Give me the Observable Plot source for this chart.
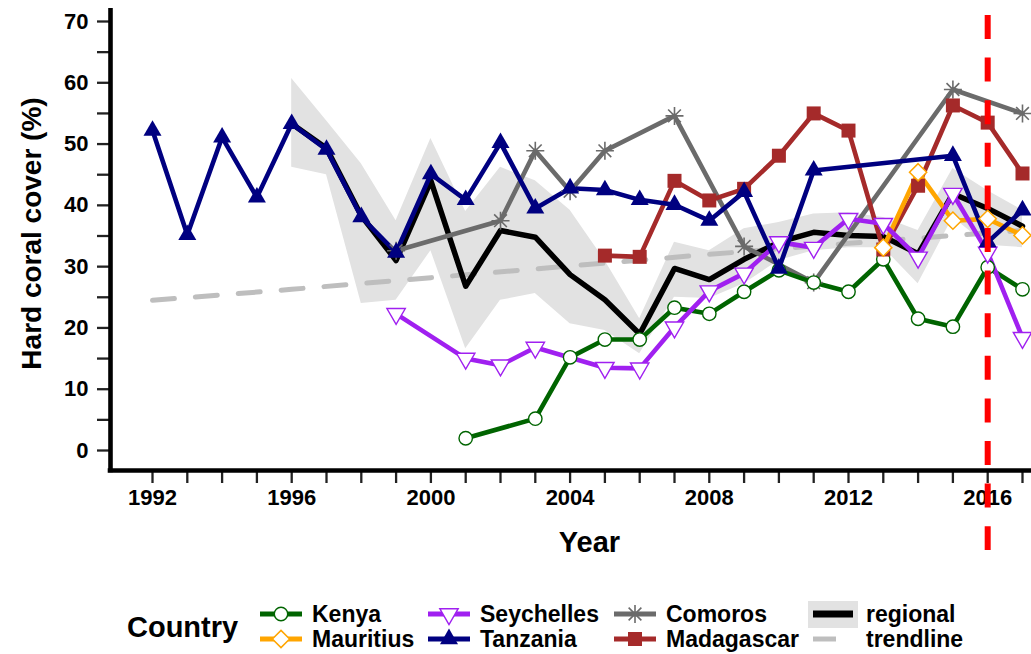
<!DOCTYPE html>
<html>
<head>
<meta charset="utf-8">
<script src="https://cdn.jsdelivr.net/npm/d3@7"></script>
<script src="https://cdn.jsdelivr.net/npm/@observablehq/plot@0.6"></script>
<style>
  html, body { margin: 0; padding: 0; background: #ffffff; }
  #chart { width: 1031px; height: 654px; overflow: hidden; font-family: "Liberation Sans", Arial, sans-serif; }
  #chart svg { display: block; }
</style>
</head>
<body>
<div id="chart"></div>
<script>
// ---- Hard coral cover (%) by country and year ----
const kenyaYears = [2001, 2003, 2004, 2005, 2006, 2007, 2008, 2009, 2010, 2011, 2012, 2013, 2014, 2015, 2016, 2017];
const kenyaCover = [2.0, 5.2, 15.2, 18.1, 18.1, 23.3, 22.3, 25.9, 29.4, 27.4, 25.9, 31.2, 21.5, 20.2, 29.9, 26.3];

const mauritiusYears = [2013, 2014, 2015, 2016, 2017];
const mauritiusCover = [33.1, 45.4, 37.5, 37.8, 35.1];

const seychellesYears = [1999, 2001, 2002, 2003, 2005, 2006, 2007, 2008, 2009, 2010, 2011, 2012, 2013, 2014, 2015, 2016, 2017];
const seychellesCover = [22.3, 15.0, 13.9, 16.8, 13.5, 13.4, 20.1, 26.0, 28.9, 34.0, 33.1, 37.8, 37.0, 31.5, 41.9, 32.3, 18.4];

const tanzaniaYears = [1992, 1993, 1994, 1995, 1996, 1997, 1998, 1999, 2000, 2001, 2002, 2003, 2004, 2005, 2006, 2007, 2008, 2009, 2010, 2011, 2015, 2016, 2017];
const tanzaniaCover = [52.2, 35.2, 51.1, 41.3, 53.3, 49.1, 38.1, 32.3, 45.1, 40.9, 50.2, 39.5, 42.8, 42.5, 40.9, 40.1, 37.5, 42.2, 29.7, 45.7, 48.1, 34.0, 39.2];

const comorosYears = [1999, 2002, 2003, 2004, 2005, 2007, 2009, 2011, 2015, 2017];
const comorosCover = [32.6, 37.5, 48.9, 42.3, 48.9, 54.6, 33.3, 27.4, 58.9, 55.0];

const madagascarYears = [2005, 2006, 2007, 2008, 2009, 2010, 2011, 2012, 2013, 2014, 2015, 2016, 2017];
const madagascarCover = [31.8, 31.6, 44.0, 40.8, 42.7, 48.1, 55.0, 52.2, 32.8, 43.2, 56.3, 53.5, 45.2];

// Regional mean with its confidence band
const regionalYears = [1996, 1997, 1998, 1999, 2000, 2001, 2002, 2003, 2004, 2005, 2006, 2007, 2008, 2009, 2010, 2011, 2012, 2013, 2014, 2015, 2016, 2017];
const regionalMean  = [53.3, 49.3, 38.3, 31.0, 44.0, 26.8, 35.9, 34.8, 28.7, 24.6, 19.0, 29.7, 27.9, 31.2, 34.0, 35.6, 35.1, 34.9, 32.1, 41.9, 39.5, 36.6];
const regionalLower = [46.2, 45.0, 24.0, 24.5, 32.6, 16.6, 24.5, 25.6, 20.7, 19.6, 15.8, 25.0, 24.8, 27.2, 31.0, 32.6, 33.1, 33.1, 27.2, 38.0, 33.5, 33.1];
const regionalUpper = [60.7, 53.8, 46.8, 37.5, 50.9, 39.0, 46.2, 44.0, 39.2, 31.0, 21.5, 34.0, 32.6, 36.2, 37.2, 38.6, 38.8, 38.0, 35.9, 46.0, 42.4, 39.2];

// Long-term trend of the regional mean
const trendYears = [1992, 1996, 2000, 2004, 2008, 2012, 2016, 2017];
const trendCover = [24.5, 26.3, 28.2, 30.1, 32.0, 33.8, 35.5, 35.9];

// Bleaching year marker
const eventYear = [2016];

// Axis ticks
const xTicks = d3.range(1992, 2019);
const yTicks = d3.range(0, 75, 5);

// ---- marker shapes ----
const rOf = size => Math.sqrt(size / Math.PI);
const triUp = {draw(c, s) { const r = rOf(s); c.moveTo(0, -1.155 * r); c.lineTo(r, 0.577 * r); c.lineTo(-r, 0.577 * r); c.closePath(); }};
const triDown = {draw(c, s) { const r = rOf(s); c.moveTo(0, 1.155 * r); c.lineTo(-r, -0.577 * r); c.lineTo(r, -0.577 * r); c.closePath(); }};
const diamond = {draw(c, s) { const r = rOf(s); c.moveTo(0, -r); c.lineTo(r, 0); c.lineTo(0, r); c.lineTo(-r, 0); c.closePath(); }};
const square = {draw(c, s) { const r = rOf(s); c.moveTo(-r, -r); c.lineTo(r, -r); c.lineTo(r, r); c.lineTo(-r, r); c.closePath(); }};
const star8 = {draw(c, s) {
  const r = rOf(s), d = r * 0.7071;
  c.moveTo(-r, 0); c.lineTo(r, 0); c.moveTo(0, -r); c.lineTo(0, r);
  c.moveTo(-d, -d); c.lineTo(d, d); c.moveTo(-d, d); c.lineTo(d, -d);
}};
const circle = {draw(c, s) { const r = rOf(s); c.moveTo(r, 0); c.arc(0, 0, r, 0, 2 * Math.PI); c.closePath(); }};

// Country styles (drawing order is alphabetical)
const countries = [
  {name: "Comoros",    years: comorosYears,    cover: comorosCover,    color: "#6b6b6b", symbol: star8,   r: 9,   fill: "none",    stroke: "#6b6b6b", sw: 1.6},
  {name: "Kenya",      years: kenyaYears,      cover: kenyaCover,      color: "#006400", symbol: circle,  r: 6.7, fill: "#ffffff", stroke: "#006400", sw: 1.4},
  {name: "Madagascar", years: madagascarYears, cover: madagascarCover, color: "#a52a2a", symbol: square,  r: 7,   fill: "#a52a2a", stroke: "none",    sw: 0},
  {name: "Mauritius",  years: mauritiusYears,  cover: mauritiusCover,  color: "#ffa500", symbol: diamond, r: 8.6, fill: "#ffffff", stroke: "#ffa500", sw: 1.5},
  {name: "Seychelles", years: seychellesYears, cover: seychellesCover, color: "#a020f0", symbol: triDown, r: 9.2, fill: "#ffffff", stroke: "#a020f0", sw: 1.4},
  {name: "Tanzania",   years: tanzaniaYears,   cover: tanzaniaCover,   color: "#000080", symbol: triUp,   r: 9,   fill: "#000080", stroke: "none",    sw: 0}
];
const rows = c => c.years.map((year, i) => ({country: c.name, year, cover: c.cover[i]}));

const regional = regionalYears.map((year, i) => ({year, mean: regionalMean[i], lo: regionalLower[i], hi: regionalUpper[i]}));
const trend = trendYears.map((year, i) => ({year, cover: trendCover[i]}));

const xMin = 1990.793, xMax = 2018.322;
const yMin = -3.263, yMax = 72.121;
const FONT = '"Liberation Sans", Arial, sans-serif';

const chart = Plot.plot({
  width: 1031,
  height: 575,
  marginLeft: 110,
  marginRight: -37,
  marginTop: 8,
  marginBottom: 105,
  x: {domain: [xMin, xMax]},
  y: {domain: [yMin, yMax]},
  style: {fontFamily: FONT, background: "#ffffff", color: "#000000", overflow: "hidden"},
  marks: [
    // regional confidence band, trend and mean
    Plot.areaY(regional, {x: "year", y1: "lo", y2: "hi", fill: "#e2e2e2"}),
    Plot.line(trend, {x: "year", y: "cover", stroke: "#bebebe", strokeWidth: 5, strokeDasharray: "22,21"}),
    Plot.line(regional, {x: "year", y: "mean", stroke: "#000000", strokeWidth: 5.5, strokeLinejoin: "round"}),
    // country lines, then their markers
    ...countries.map(c => Plot.line(rows(c), {x: "year", y: "cover", stroke: c.color, strokeWidth: 4.6, strokeLinejoin: "round"})),
    ...countries.map(c => Plot.dot(rows(c), {x: "year", y: "cover", symbol: c.symbol, r: c.r, fill: c.fill, stroke: c.stroke, strokeWidth: c.sw})),
    // axes
    Plot.axisY({ticks: yTicks, tickSize: 13, tickPadding: 9, tickFormat: d => (d % 10 === 0 ? String(d) : ""), fontSize: 22, fontWeight: "bold", stroke: "#222222", strokeWidth: 2.3, label: null}),
    Plot.axisX({ticks: xTicks, tickSize: 13, tickPadding: 6, tickFormat: d => (d % 4 === 0 ? String(d) : ""), fontSize: 22, fontWeight: "bold", stroke: "#222222", strokeWidth: 2.3, label: null}),
    Plot.ruleX([xMin], {stroke: "#000000", strokeWidth: 4.6, insetBottom: -2.3}),
    Plot.ruleY([yMin], {stroke: "#000000", strokeWidth: 4.6, insetLeft: -2.3}),
    Plot.text(["Hard coral cover (%)"], {frameAnchor: "left", textAnchor: "middle", lineAnchor: "middle", rotate: -90, dx: -78, dy: -6, fontSize: 28, fontWeight: "bold", fill: "#000000"}),
    Plot.text(["Year"], {frameAnchor: "bottom", lineAnchor: "middle", dy: 72, fontSize: 29, fontWeight: "bold", fill: "#000000"}),
    // 2016 bleaching year
    Plot.ruleX(eventYear, {stroke: "#ff0000", strokeWidth: 6, strokeDasharray: "24,18.6", insetTop: 7, insetBottom: -80})
  ]
});

const root = document.getElementById("chart");
root.appendChild(chart);

// ---- legend below the chart ----
const legendItems = [
  {label: "Kenya", col: 0, row: 0}, {label: "Mauritius", col: 0, row: 1},
  {label: "Seychelles", col: 1, row: 0}, {label: "Tanzania", col: 1, row: 1},
  {label: "Comoros", col: 2, row: 0}, {label: "Madagascar", col: 2, row: 1},
  {label: "regional", col: 3, row: 0}, {label: "trendline", col: 3, row: 1}
];
const keyX = [260, 428, 614, 812];
const textX = [312, 480, 666, 866];
const rowY = [39, 64];

const legend = d3.create("svg")
  .attr("width", 1031)
  .attr("height", 79)
  .attr("font-family", FONT)
  .attr("font-weight", "bold");

legend.append("text")
  .attr("x", 127).attr("y", 62)
  .attr("font-size", 29)
  .text("Country");

for (const item of legendItems) {
  const x0 = keyX[item.col], y0 = rowY[item.row];
  const c = countries.find(d => d.name === item.label);
  if (c) {
    legend.append("line").attr("x1", x0).attr("x2", x0 + 42).attr("y1", y0).attr("y2", y0)
      .attr("stroke", c.color).attr("stroke-width", 5);
    const p = d3.path();
    c.symbol.draw(p, c.r * c.r * Math.PI);
    legend.append("path").attr("d", p.toString())
      .attr("transform", `translate(${x0 + 21},${y0})`)
      .attr("fill", c.fill).attr("stroke", c.stroke).attr("stroke-width", c.sw);
  } else if (item.label === "regional") {
    legend.append("rect").attr("x", x0 - 4).attr("y", y0 - 13).attr("width", 50).attr("height", 27).attr("fill", "#e2e2e2");
    legend.append("line").attr("x1", x0 + 1).attr("x2", x0 + 41).attr("y1", y0).attr("y2", y0)
      .attr("stroke", "#000000").attr("stroke-width", 7);
  } else {
    legend.append("line").attr("x1", x0 + 1).attr("x2", x0 + 24).attr("y1", y0).attr("y2", y0)
      .attr("stroke", "#bebebe").attr("stroke-width", 5);
  }
  legend.append("text")
    .attr("x", textX[item.col]).attr("y", y0 + 8)
    .attr("font-size", 23)
    .text(item.label);
}

root.appendChild(legend.node());
</script>
</body>
</html>
